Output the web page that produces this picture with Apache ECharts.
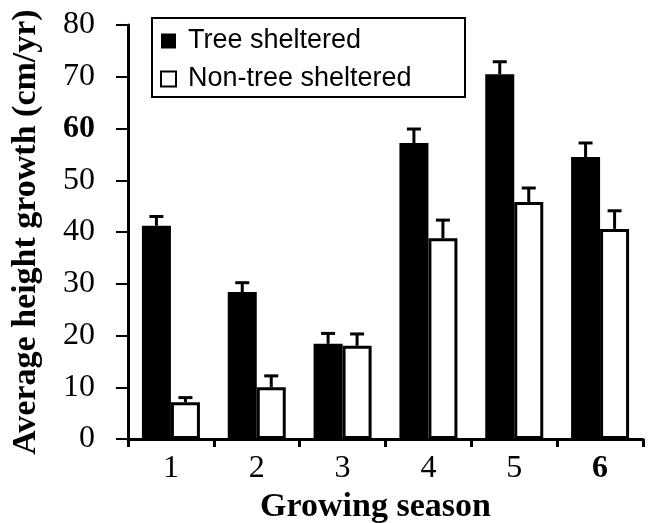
<!DOCTYPE html>
<html>
<head>
<meta charset="utf-8">
<script src="https://cdn.jsdelivr.net/npm/echarts@6/dist/echarts.min.js"></script>
<style>
  html, body { margin: 0; padding: 0; background: #fff; }
  #chart { width: 650px; height: 523px; }
</style>
</head>
<body>
<div id="chart"></div>
<script>
// growing seasons
const seasons = ["1", "2", "3", "4", "5", "6"];
// average height growth (cm/yr)
const treeSheltered = [41.2, 28.4, 18.4, 57.2, 70.5, 54.5];
const nonTreeSheltered = [7.1, 10.0, 18.0, 38.8, 45.8, 40.6];
// upper error bar lengths
const treeErr = [1.8, 1.8, 2.0, 2.7, 2.4, 2.7];
const nonTreeErr = [0.9, 2.2, 2.3, 3.5, 2.7, 3.5];

const BAR_W = 29;

function errorSeries(name, values, errs, offset) {
  return {
    type: "custom",
    name: name + " err",
    z: 5,
    data: values.map((v, i) => [i, v, errs[i]]),
    renderItem: function (params, api) {
      const i = api.value(0);
      const base = api.coord([i, api.value(1)]);
      const top = api.coord([i, api.value(1) + api.value(2)]);
      const x = base[0] + offset;
      const style = { stroke: "#000", lineWidth: 3 };
      return {
        type: "group",
        children: [
          { type: "line", shape: { x1: x, y1: base[1], x2: x, y2: top[1] }, style: style },
          { type: "line", shape: { x1: x - 7, y1: top[1], x2: x + 7, y2: top[1] }, style: style },
        ],
      };
    },
  };
}

const chart = echarts.init(document.getElementById("chart"));
chart.setOption({
  animation: false,
  textStyle: { fontFamily: "Liberation Serif", color: "#000" },
  grid: { left: 128, right: 7, top: 25, bottom: 84, outerBoundsMode: "none", containLabel: false },
  graphic: [
    {
      type: "rect",
      shape: { x: 152, y: 18, width: 313, height: 79 },
      style: { fill: "none", stroke: "#000", lineWidth: 2 },
      z: 10,
    },
  ],
  legend: {
    orient: "vertical",
    left: 160,
    top: 26,
    padding: 0,
    itemWidth: 15,
    itemHeight: 15,
    itemGap: 8,
    icon: "rect",
    textStyle: {
      fontFamily: "Liberation Sans",
      fontSize: 27,
      lineHeight: 30,
      color: "#000",
      padding: [0, 0, 0, 7],
    },
    data: [
      { name: "Tree sheltered" },
      { name: "Non-tree sheltered", itemStyle: { borderWidth: 2, borderColor: "#000", color: "#fff" } },
    ],
  },
  xAxis: {
    type: "category",
    data: seasons,
    name: "Growing season",
    nameLocation: "middle",
    nameGap: 48,
    nameTextStyle: {
      fontFamily: "Liberation Serif",
      fontSize: 34,
      fontWeight: "bold",
      color: "#000",
      padding: [0, 20, 0, 0],
    },
    axisLine: { lineStyle: { color: "#000", width: 3 } },
    axisTick: { show: true, length: 8, inside: false, lineStyle: { color: "#000", width: 3 } },
    axisLabel: {
      interval: 0,
      fontFamily: "Liberation Serif",
      fontSize: 32,
      color: "#000",
      margin: 14,
      formatter: function (v) { return v === "6" ? "{b|" + v + "}" : v; },
      rich: { b: { fontFamily: "Liberation Serif", fontSize: 32, fontWeight: "bold", color: "#000" } },
    },
  },
  yAxis: {
    type: "value",
    min: 0,
    max: 80,
    interval: 10,
    name: "Average height growth (cm/yr)",
    nameLocation: "middle",
    nameGap: 85,
    nameTextStyle: { fontFamily: "Liberation Serif", fontSize: 34, fontWeight: "bold", color: "#000" },
    splitLine: { show: false },
    axisLine: { show: true, lineStyle: { color: "#000", width: 3 } },
    axisTick: { show: true, length: 12, lineStyle: { color: "#000", width: 2 } },
    axisLabel: {
      fontFamily: "Liberation Serif",
      fontSize: 32,
      color: "#000",
      margin: 33,
      formatter: function (v) { return v === 60 ? "{b|" + v + "}" : String(v); },
      rich: { b: { fontFamily: "Liberation Serif", fontSize: 32, fontWeight: "bold", color: "#000" } },
    },
  },
  series: [
    {
      name: "Tree sheltered",
      type: "bar",
      barWidth: BAR_W,
      barGap: "0%",
      data: treeSheltered,
      itemStyle: { color: "#000" },
    },
    {
      name: "Non-tree sheltered",
      type: "bar",
      barWidth: BAR_W,
      barGap: "0%",
      data: nonTreeSheltered,
      itemStyle: { color: "#fff", borderColor: "#000", borderWidth: 3 },
    },
    errorSeries("Tree sheltered", treeSheltered, treeErr, -BAR_W / 2),
    errorSeries("Non-tree sheltered", nonTreeSheltered, nonTreeErr, BAR_W / 2),
  ],
});
</script>
</body>
</html>
